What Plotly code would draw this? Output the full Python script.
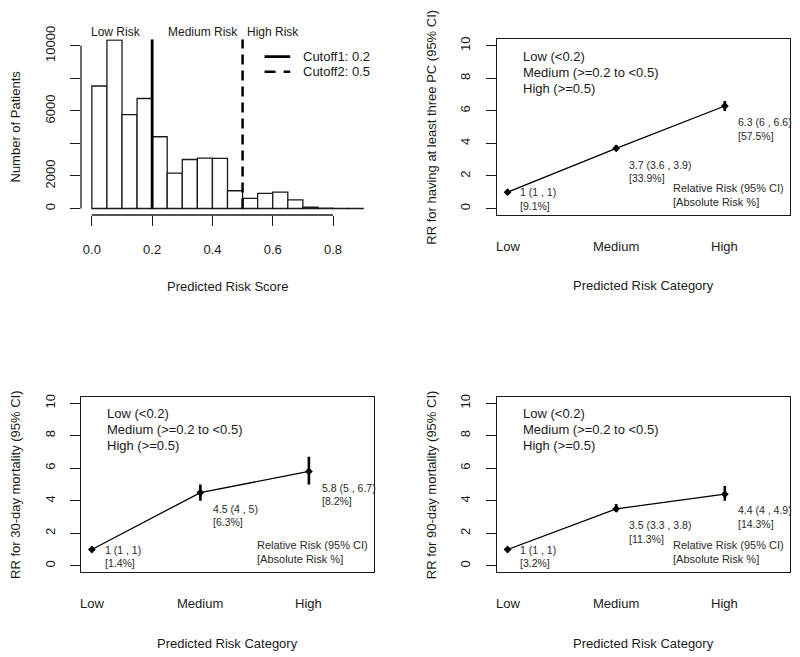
import plotly.graph_objects as go

# ---------------- data ----------------
bin_left = [0.00, 0.05, 0.10, 0.15, 0.20, 0.25, 0.30, 0.35, 0.40,
            0.45, 0.50, 0.55, 0.60, 0.65, 0.70, 0.75, 0.80, 0.85]
bin_counts = [7530, 10350, 5770, 6760, 4410, 2170, 3010, 3090, 3080,
              1090, 620, 930, 1010, 530, 80, 15, 4, 2]
bin_width = 0.05
cutoffs = [0.2, 0.5]
cutoff_names = ["Cutoff1: 0.2", "Cutoff2: 0.5"]
region_labels = ["Low Risk", "Medium Risk", "High Risk"]
region_label_x = [0.08, 0.37, 0.60]
hist_xticks = [0.0, 0.2, 0.4, 0.6, 0.8]
hist_yticks = [0, 2000, 4000, 6000, 8000, 10000]
hist_yticktext = ["0", "2000", "", "6000", "", "10000"]

categories = ["Low", "Medium", "High"]
cat_pos = [1, 2, 3]
rr_yticks = [0, 2, 4, 6, 8, 10]
group_text = ["Low (<0.2)", "Medium (>=0.2 to <0.5)", "High (>=0.5)"]

rr_pc = [1, 3.7, 6.3]
lo_pc = [1, 3.6, 6.0]
hi_pc = [1, 3.9, 6.6]
abs_pc = [9.1, 33.9, 57.5]

rr_30 = [1, 4.5, 5.8]
lo_30 = [1, 4.0, 5.0]
hi_30 = [1, 5.0, 6.7]
abs_30 = [1.4, 6.3, 8.2]

rr_90 = [1, 3.5, 4.4]
lo_90 = [1, 3.3, 4.0]
hi_90 = [1, 3.8, 4.9]
abs_90 = [3.2, 11.3, 14.3]

# ---------------- layout helpers ----------------
W, H = 800, 657
OFF = 8  # page body margin
FONT = "Liberation Sans, Arial, sans-serif"
INK = "#1a1a1a"
SOFT = "#2a2a2a"


def px_x(p):
    return (p - OFF) / W


def px_y(p):
    return 1 - (p - OFF) / H


dom_x_left = [px_x(81), px_x(374)]
dom_x_right = [px_x(496.7), px_x(790)]
dom_y_top = [px_y(215), px_y(39.3)]
dom_y_bot = [px_y(572.3), px_y(396.6)]

fig = go.Figure()

# ---------------- panel 1: histogram ----------------
fig.add_trace(go.Bar(
    x=bin_left, y=bin_counts, width=bin_width, offset=0,
    marker=dict(color="white", line=dict(color=INK, width=1.3)),
    xaxis="x", yaxis="y", showlegend=False, hoverinfo="skip"))

cut_dash = ["solid", "10px,6px"]
cut_width = [2.8, 2.5]
for c, d, w in zip(cutoffs, cut_dash, cut_width):
    fig.add_shape(type="line", xref="x", yref="y", x0=c, x1=c, y0=0, y1=10400,
                  line=dict(color="black", width=w, dash=d))

fig.add_shape(type="line", xref="x", yref="y domain", x0=hist_xticks[0], x1=hist_xticks[-1],
              y0=0, y1=0, line=dict(color=INK, width=1.3))
fig.add_shape(type="line", xref="x domain", yref="y", x0=0, x1=0,
              y0=hist_yticks[0], y1=hist_yticks[-1], line=dict(color=INK, width=1.3))

for t, xv in zip(region_labels, region_label_x):
    fig.add_annotation(text=t, x=xv, y=px_y(31.7), xref="x", yref="paper", showarrow=False,
                       font=dict(size=12, family=FONT, color=INK), xanchor="center", yanchor="middle")

leg_y = [9330, 8410]
leg_dash = ["solid", "11px,8px"]
for name, yv, d, w in zip(cutoff_names, leg_y, leg_dash, cut_width):
    fig.add_shape(type="line", xref="x", yref="y", x0=0.573, x1=0.658, y0=yv, y1=yv,
                  line=dict(color="black", width=w, dash=d))
    fig.add_annotation(text=name, x=0.693, y=yv, xref="x", yref="y", showarrow=False,
                       font=dict(size=13, family=FONT, color=INK), xanchor="left", yanchor="middle")

# ---------------- RR panels ----------------
panels = [
    (rr_pc, lo_pc, hi_pc, abs_pc, "x2", "y2", "RR for having at least three PC (95% CI)"),
    (rr_30, lo_30, hi_30, abs_30, "x3", "y3", "RR for 30-day mortality (95% CI)"),
    (rr_90, lo_90, hi_90, abs_90, "x4", "y4", "RR for 90-day mortality (95% CI)"),
]


def fmt(v):
    return f"{v:g}"


for rr, lo, hi, ab, xa, ya, ytitle in panels:
    fig.add_trace(go.Scatter(
        x=cat_pos, y=rr, mode="lines+markers", xaxis=xa, yaxis=ya,
        line=dict(color="black", width=1.3),
        marker=dict(symbol="diamond", size=6, color="black"),
        error_y=dict(type="data", symmetric=False,
                     array=[h - r for h, r in zip(hi, rr)],
                     arrayminus=[r - l for r, l in zip(rr, lo)],
                     color="black", thickness=2.6, width=0),
        showlegend=False, hoverinfo="skip"))
    for i, (x, r, l, h, a) in enumerate(zip(cat_pos, rr, lo, hi, ab)):
        ly = r if i == 0 else r - 1
        fig.add_annotation(text=f"{fmt(r)} ({fmt(l)} , {fmt(h)})", x=x + 0.1, y=ly,
                           xref=xa, yref=ya, showarrow=False, xanchor="left", yanchor="middle",
                           font=dict(size=10.5, family=FONT, color=SOFT))
        fig.add_annotation(text=f"[{a}%]", x=x + 0.1, y=ly, yshift=-13.5,
                           xref=xa, yref=ya, showarrow=False, xanchor="left", yanchor="middle",
                           font=dict(size=10.5, family=FONT, color=SOFT))
    for t, yv in zip(group_text, [9.35, 8.37, 7.40]):
        fig.add_annotation(text=t, x=1.121, y=yv, xref=xa, yref=ya, showarrow=False,
                           xanchor="left", yanchor="middle",
                           font=dict(size=13, family=FONT, color=INK))
    fig.add_annotation(text="Relative Risk (95% CI)", x=2.5, y=1.25, xref=xa, yref=ya,
                       showarrow=False, xanchor="left", yanchor="middle",
                       font=dict(size=11, family=FONT, color=SOFT))
    fig.add_annotation(text="[Absolute Risk %]", x=2.5, y=1.25, yshift=-13.4, xref=xa, yref=ya,
                       showarrow=False, xanchor="left", yanchor="middle",
                       font=dict(size=11, family=FONT, color=SOFT))

# ---------------- axes ----------------
tickfont = dict(size=13, family=FONT, color=INK)
common_y = dict(ticks="outside", ticklen=10, tickwidth=1.3, tickcolor=INK, tickangle=-90,
                tickfont=tickfont, showgrid=False, zeroline=False, ticklabelstandoff=10,
                automargin=False)

fig.update_layout(
    width=W, height=H, autosize=False,
    margin=dict(l=0, r=0, t=0, b=0, pad=0, autoexpand=False),
    paper_bgcolor="white", plot_bgcolor="white", showlegend=False,
    font=dict(family=FONT, color=INK),
    xaxis=dict(domain=dom_x_left, range=[-0.036, 0.936], tickvals=hist_xticks, tickformat=".1f",
               ticks="outside", ticklen=10, tickwidth=1.3, tickcolor=INK, tickfont=tickfont,
               showline=False, showgrid=False, zeroline=False, anchor="y", ticklabelstandoff=12,
               automargin=False),
    yaxis=dict(domain=dom_y_top, range=[-400, 10400], tickvals=hist_yticks,
               ticktext=hist_yticktext, showline=False, anchor="x", **common_y),
)

rr_x = dict(range=[0.9, 3.6], showticklabels=False, ticks="", showline=True, mirror=True,
            linecolor=INK, linewidth=1.3, showgrid=False, zeroline=False, automargin=False)
rr_y = dict(range=[-0.4, 10.4], tickvals=rr_yticks, showline=True, mirror=True,
            linecolor=INK, linewidth=1.3, **common_y)

fig.update_layout(
    xaxis2=dict(domain=dom_x_right, anchor="y2", **rr_x),
    yaxis2=dict(domain=dom_y_top, anchor="x2", **rr_y),
    xaxis3=dict(domain=dom_x_left, anchor="y3", **rr_x),
    yaxis3=dict(domain=dom_y_bot, anchor="x3", **rr_y),
    xaxis4=dict(domain=dom_x_right, anchor="y4", **rr_x),
    yaxis4=dict(domain=dom_y_bot, anchor="x4", **rr_y),
)

for xa, ypx in [("x2", 246.7), ("x3", 603.3), ("x4", 603.3)]:
    for c, p in zip(categories, cat_pos):
        fig.add_annotation(text=c, x=p, y=px_y(ypx), xref=xa, yref="paper", showarrow=False,
                           xanchor="center", yanchor="middle", font=tickfont)

xtitles = [("Predicted Risk Score", 227.5, 286), ("Predicted Risk Category", 643.3, 285.7),
           ("Predicted Risk Category", 227.5, 643.3), ("Predicted Risk Category", 643.3, 643.3)]
for t, xp, yp in xtitles:
    fig.add_annotation(text=t, x=px_x(xp), y=px_y(yp), xref="paper", yref="paper",
                       showarrow=False, xanchor="center", yanchor="middle",
                       font=dict(size=13, family=FONT, color=INK))

ytitles = [("Number of Patients", 15.5, 127), (panels[0][6], 431.7, 127),
           (panels[1][6], 15.5, 484.5), (panels[2][6], 431.7, 484.5)]
for t, xp, yp in ytitles:
    fig.add_annotation(text=t, x=px_x(xp), y=px_y(yp), xref="paper", yref="paper",
                       showarrow=False, xanchor="center", yanchor="middle", textangle=-90,
                       font=dict(size=13, family=FONT, color=INK))

fig.write_html("out.html")
